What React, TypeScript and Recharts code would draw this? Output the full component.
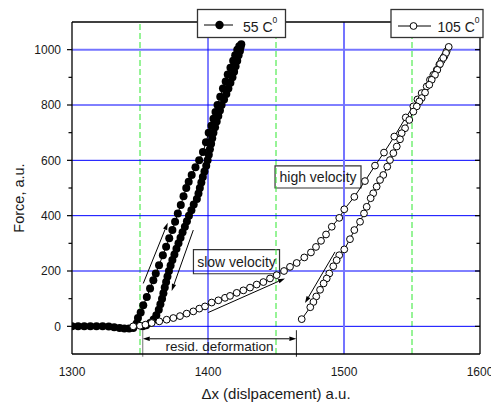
import React from "react";
import {
  ReferenceArea,
  ReferenceLine,
  Scatter,
  ScatterChart,
  XAxis,
  YAxis,
} from "recharts";

// page margin off so the chart sits at 0,0
if (typeof document !== "undefined") document.body.style.margin = "0";

const W = 491;
const H = 403;
const FONT = '"Liberation Sans", Arial, sans-serif';
const INK = "#1a1a1a";

// axes
const X_DOMAIN = [1300, 1600];
const Y_DOMAIN = [-100, 1100];
const X_TICKS = [1300, 1400, 1500, 1600];
const Y_TICKS = [0, 100, 200, 300, 400, 500, 600, 700, 800, 900, 1000];
const TOP_DOMAIN = [0, 408];
const TOP_TICKS = [40, 80, 120, 160, 200, 240, 280, 320, 360, 400];

// grid
const BLUE_Y = [0, 200, 400, 600, 800];
const BLUE_Y_LIGHT = [1000];
const BLUE_X = [1400];
const BLUE_X_LIGHT = [1500];
const GREEN_X = [1350, 1450, 1550];

// 55 C0 : approach, loading (left branch), unloading (right branch)
const approach55 = [
  [1300, 0], [1304.5, 0], [1309, 0], [1313.5, 0], [1318, 0], [1322.5, 0],
  [1327, -1], [1331, -3], [1335, -6], [1338.5, -8], [1342, -8], [1345, -6],
];
const load55 = [
  [1347.5, 10], [1348.5, 30], [1350.5, 50], [1352.4, 76], [1355, 106], [1357.4, 137],
  [1359.8, 167], [1361.6, 191], [1364, 221], [1366.8, 257], [1369.2, 288], [1371.5, 318],
  [1373.8, 348], [1375.8, 378], [1377.8, 408], [1380, 439], [1382, 470], [1384, 500],
  [1385.8, 523], [1388, 547], [1390.8, 575], [1393.5, 600], [1396.3, 630], [1398.5, 665],
  [1400.5, 700], [1402.5, 725], [1404, 750], [1405.5, 775], [1407, 800], [1409, 830],
  [1411, 860], [1413, 885], [1414.5, 910], [1416.5, 935], [1418.5, 960], [1420, 980],
  [1421.5, 1000], [1423, 1012], [1424.5, 1020],
];
const unload55 = [
  [1424, 1010], [1423.5, 995], [1422.5, 980], [1421.5, 960], [1420.3, 940], [1419.2, 920],
  [1418, 900], [1416.5, 880], [1415, 860], [1413.5, 840], [1411.8, 820], [1410, 800],
  [1408.8, 780], [1407.6, 760], [1406.4, 740], [1405.2, 720], [1404, 700], [1403.1, 680],
  [1402.3, 660], [1401.4, 640], [1400.6, 620], [1399.7, 600], [1398.7, 580], [1397.4, 560],
  [1396.2, 540], [1395.1, 520], [1394, 500], [1393, 480], [1391.8, 460], [1389.5, 440],
  [1387.8, 420], [1386, 400], [1384.5, 380], [1383, 360], [1381.3, 340], [1379.8, 320],
  [1378.3, 300], [1376.8, 280], [1375.3, 260], [1373.8, 240], [1372.5, 220], [1371.3, 200],
  [1370.2, 180], [1369.2, 160], [1368.2, 140], [1367.2, 120], [1366.2, 100], [1365, 80],
  [1363.8, 60], [1362, 40], [1360, 25], [1357.5, 12], [1354.5, 4], [1352, 0],
];

// 105 C0 : loading (slow), unloading (high velocity)
const load105 = [
  [1345, 0], [1350, 2], [1354, 6], [1358.6, 12], [1364.2, 18], [1369.6, 24],
  [1374.5, 30], [1379.4, 37], [1384.3, 46], [1389.2, 54], [1393.6, 64], [1397.8, 72],
  [1402.7, 86], [1407.6, 94], [1412.5, 103], [1416.2, 110], [1421.1, 121], [1426, 130],
  [1430.9, 140], [1435.8, 151], [1440.7, 160], [1445.6, 173], [1450.5, 185], [1455.9, 200],
  [1460.3, 215], [1465.2, 229], [1470.8, 249], [1475.7, 267], [1479.4, 287], [1483.1, 309],
  [1486.8, 332], [1491, 360], [1496.5, 392], [1500.2, 423], [1507.6, 468], [1515.4, 525],
  [1522.8, 581], [1529.4, 628], [1537, 686], [1545.4, 755], [1551, 795], [1554, 820],
  [1557.1, 843], [1560.8, 867], [1563.2, 891], [1565.7, 909], [1568.2, 927], [1570.1, 946],
  [1571.8, 961], [1573.8, 976], [1575.5, 994], [1577, 1010],
];
const unload105 = [
  [1575, 988], [1573, 970], [1570.6, 948], [1568.6, 927], [1566.9, 909], [1564.5, 891],
  [1562.7, 873], [1559.6, 845], [1557.1, 825], [1555.4, 813], [1553.5, 795], [1551, 776],
  [1548, 746], [1544.9, 716], [1542.4, 698], [1541.2, 676], [1538.8, 650], [1536.3, 626],
  [1533.8, 601], [1531.8, 577], [1528.9, 547], [1526.5, 529], [1524, 505], [1521.5, 481],
  [1519.6, 463], [1516.7, 432], [1514.7, 408], [1511.8, 378], [1507.6, 348], [1504.4, 315],
  [1500.2, 278], [1496.5, 257], [1494.6, 239], [1492.1, 217], [1489.2, 191], [1487.3, 173],
  [1485, 155], [1482.4, 132], [1479.6, 108], [1477.5, 88], [1475.2, 69], [1468.9, 26],
];

// annotations (data units)
const ARROWS = [
  { from: [1352.4, 155], to: [1370.4, 374] },
  { from: [1389.2, 348], to: [1373.3, 128] },
  { from: [1400.2, 50], to: [1456.6, 173] },
  { from: [1493.4, 269], to: [1471.3, 84] },
];
const RESID_X = [1352, 1465];
const RESID_Y = -45;
const NOTES = [
  { text: "slow velocity", x1: 1389.3, x2: 1452.6, y1: 190, y2: 277 },
  { text: "high velocity", x1: 1449.3, x2: 1512.5, y1: 500, y2: 580 },
];

const toPts = (a: number[][]) => a.map(([x, y]) => ({ x, y }));
const pts55 = toPts([...approach55, ...load55, ...unload55]);
const pts105 = toPts([...load105, ...unload105]);

const FilledDot = (p: any) => <circle cx={p.cx} cy={p.cy} r={4} fill="#000" />;
const OpenDot = (p: any) => (
  <circle cx={p.cx} cy={p.cy} r={3.4} fill="#fff" stroke="#000" strokeWidth={1} />
);

function head(x1: number, y1: number, x2: number, y2: number) {
  const len = Math.hypot(x2 - x1, y2 - y1) || 1;
  const dx = (x2 - x1) / len;
  const dy = (y2 - y1) / len;
  const L = 7;
  const w = 2.2;
  const bx = x2 - dx * L;
  const by = y2 - dy * L;
  return {
    bx,
    by,
    pts: `${x2},${y2} ${bx - dy * w},${by + dx * w} ${bx + dy * w},${by - dx * w}`,
  };
}

const arrowShape = (both: boolean) => (p: any) => {
  const { x1, y1, x2, y2 } = p;
  const e = head(x1, y1, x2, y2);
  const s = both ? head(x2, y2, x1, y1) : null;
  return (
    <g>
      <line
        x1={s ? s.bx : x1}
        y1={s ? s.by : y1}
        x2={e.bx}
        y2={e.by}
        stroke="#000"
        strokeWidth={1}
      />
      <polygon points={e.pts} fill="#000" />
      {s && <polygon points={s.pts} fill="#000" />}
    </g>
  );
};

function LeftTick({ x, y, payload }: any) {
  const v = payload.value;
  const major = v % 200 === 0;
  return (
    <g>
      <line x1={x - (major ? 5 : 3.5)} x2={x} y1={y} y2={y} stroke="#000" strokeWidth={1.2} />
      {major && (
        <text x={x - 11} y={y + 4.3} textAnchor="end" fontSize={12} fontFamily={FONT} fill={INK}>
          {v}
        </text>
      )}
    </g>
  );
}

function RightTick({ x, y, payload }: any) {
  const major = payload.value % 200 === 0;
  return <line x1={x} x2={x - (major ? 5 : 3.5)} y1={y} y2={y} stroke="#000" strokeWidth={1.2} />;
}

function TopTick({ x, y }: any) {
  return <line x1={x} x2={x} y1={y} y2={y + 6} stroke="#000" strokeWidth={1.2} />;
}

function BottomTick({ x, y, payload }: any) {
  return (
    <text x={x} y={y + 22} textAnchor="middle" fontSize={12} fontFamily={FONT} fill={INK}>
      {payload.value}
    </text>
  );
}

const AXIS_LINE = { stroke: "#000", strokeWidth: 1.3 };

export default function App() {
  return (
    <div style={{ position: "relative", width: W, height: H, background: "#fff" }}>
      <ScatterChart width={W} height={H} margin={{ top: 12, right: 1, bottom: 19, left: 22 }}>
        <XAxis
          xAxisId={0}
          dataKey="x"
          type="number"
          domain={X_DOMAIN}
          ticks={X_TICKS}
          interval={0}
          allowDataOverflow
          height={30}
          tickSize={0}
          tickMargin={0}
          tickLine={false}
          axisLine={AXIS_LINE}
          tick={<BottomTick />}
        />
        <XAxis
          xAxisId="top"
          orientation="top"
          type="number"
          domain={TOP_DOMAIN}
          ticks={TOP_TICKS}
          interval={0}
          allowDataOverflow
          height={10}
          tickSize={0}
          tickMargin={0}
          tickLine={false}
          axisLine={AXIS_LINE}
          tick={<TopTick />}
        />
        <YAxis
          yAxisId={0}
          dataKey="y"
          type="number"
          domain={Y_DOMAIN}
          ticks={Y_TICKS}
          interval={0}
          allowDataOverflow
          width={50}
          tickSize={0}
          tickMargin={0}
          tickLine={false}
          axisLine={AXIS_LINE}
          tick={<LeftTick />}
        />
        <YAxis
          yAxisId="r"
          orientation="right"
          type="number"
          domain={Y_DOMAIN}
          ticks={Y_TICKS}
          interval={0}
          allowDataOverflow
          width={10}
          tickSize={0}
          tickMargin={0}
          tickLine={false}
          axisLine={AXIS_LINE}
          tick={<RightTick />}
        />

        {GREEN_X.map((v) => (
          <ReferenceLine key={`g${v}`} x={v} stroke="#2ee82e" strokeWidth={1} strokeDasharray="6 3" />
        ))}
        {BLUE_Y.map((v) => (
          <ReferenceLine key={`by${v}`} y={v} stroke="#0000ff" strokeWidth={1} />
        ))}
        {BLUE_Y_LIGHT.map((v) => (
          <ReferenceLine key={`bl${v}`} y={v} stroke="#7474ff" strokeWidth={2} />
        ))}
        {BLUE_X.map((v) => (
          <ReferenceLine key={`bx${v}`} x={v} stroke="#0000ff" strokeWidth={1} />
        ))}
        {BLUE_X_LIGHT.map((v) => (
          <ReferenceLine key={`bxl${v}`} x={v} stroke="#7474ff" strokeWidth={2} />
        ))}

        {NOTES.map((n) => (
          <ReferenceArea
            key={n.text}
            x1={n.x1}
            x2={n.x2}
            y1={n.y1}
            y2={n.y2}
            fill="#fff"
            fillOpacity={1}
            stroke="#333"
            strokeWidth={1.2}
            label={{ value: n.text, position: "center", fontSize: 14, fontFamily: FONT, fill: INK }}
          />
        ))}

        {ARROWS.map((a, i) => (
          <ReferenceLine
            key={`a${i}`}
            segment={[
              { x: a.from[0], y: a.from[1] },
              { x: a.to[0], y: a.to[1] },
            ]}
            ifOverflow="visible"
            shape={arrowShape(false)}
          />
        ))}
        <ReferenceLine
          segment={[
            { x: RESID_X[0], y: RESID_Y },
            { x: RESID_X[1], y: RESID_Y },
          ]}
          ifOverflow="visible"
          shape={arrowShape(true)}
        />
        <ReferenceLine
          segment={[
            { x: RESID_X[0], y: -14 },
            { x: RESID_X[0], y: -110 },
          ]}
          ifOverflow="visible"
          stroke="#8a8a8a"
          strokeWidth={1.2}
        />
        <ReferenceLine
          segment={[
            { x: RESID_X[1], y: -14 },
            { x: RESID_X[1], y: -110 },
          ]}
          ifOverflow="visible"
          stroke="#222"
          strokeWidth={1}
        />
        <ReferenceArea
          x1={RESID_X[0]}
          x2={RESID_X[1]}
          y1={-100}
          y2={RESID_Y}
          fill="none"
          stroke="none"
          label={{ value: "resid. deformation", position: "center", fontSize: 13.5, fontFamily: FONT, fill: INK }}
        />

        <Scatter
          data={pts55}
          shape={FilledDot}
          line={{ stroke: "#000", strokeWidth: 1 }}
          lineType="joint"
          isAnimationActive={false}
        />
        <Scatter
          data={pts105}
          shape={OpenDot}
          line={{ stroke: "#000", strokeWidth: 1 }}
          lineType="joint"
          isAnimationActive={false}
        />
      </ScatterChart>

      <svg
        width={W}
        height={H}
        style={{ position: "absolute", left: 0, top: 0, pointerEvents: "none" }}
      >
        <rect x={197.5} y={9.5} width={88} height={28} fill="#fff" stroke="#333" strokeWidth={1.3} />
        <line x1={204} x2={233} y1={25} y2={25} stroke="#000" />
        <circle cx={219.5} cy={25} r={4.2} fill="#000" />
        <text x={243} y={31.5} fontSize={14} fontFamily={FONT} fill={INK}>
          55 C<tspan dy={-9} fontSize={8.5}>0</tspan>
        </text>

        <rect x={391} y={9.5} width={92} height={28} fill="#fff" stroke="#333" strokeWidth={1.3} />
        <line x1={398} x2={431} y1={26} y2={26} stroke="#000" />
        <circle cx={413.5} cy={26} r={3.4} fill="#fff" stroke="#000" />
        <text x={437.5} y={31.5} fontSize={14} fontFamily={FONT} fill={INK}>
          105 C<tspan dy={-9} fontSize={8.5}>0</tspan>
        </text>

        <text
          x={23.5}
          y={198}
          transform="rotate(-90 23.5 198)"
          textAnchor="middle"
          fontSize={14.5}
          fontFamily={FONT}
          fill={INK}
        >
          Force, a.u.
        </text>
        <text x={276} y={399} textAnchor="middle" fontSize={15} fontFamily={FONT} fill={INK}>
          Δx (dislpacement) a.u.
        </text>
      </svg>
    </div>
  );
}
